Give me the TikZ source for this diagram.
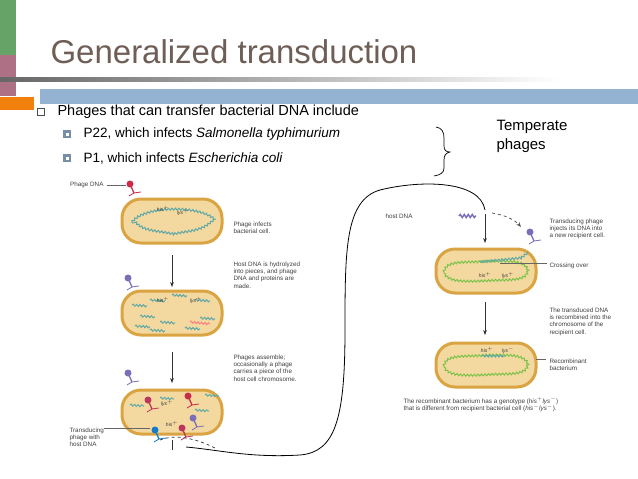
\documentclass[tikz,border=0pt]{standalone}
\usepackage{fontspec}
\setmainfont{Liberation Sans}
\usetikzlibrary{arrows.meta,decorations.pathmorphing}
\definecolor{titlec}{HTML}{6E5E56}
\definecolor{barblue}{HTML}{94B3D2}
\definecolor{cellout}{HTML}{D9A441}
\definecolor{cellin}{HTML}{F3D9A0}
\definecolor{dnac}{HTML}{5FA8A6}
\definecolor{grnc}{HTML}{7DC24A}
\definecolor{phagec}{HTML}{7A6FB8}
\tikzset{
 cell/.style={draw=cellout,line width=3pt,fill=cellin,rounded corners=19pt,minimum width=100pt,minimum height=44pt},
 note/.style={font=\fontsize{6.3}{7.3}\selectfont,align=left,anchor=north west,text=black!75},
 gene/.style={font=\itshape\fontsize{5}{6}\selectfont,text=black!80},
 dna/.style={dnac,line width=1pt,decorate,decoration={snake,amplitude=1pt,segment length=3.5pt}},
 gdna/.style={grnc,line width=1pt,decorate,decoration={snake,amplitude=1pt,segment length=3.5pt}},
 arr/.style={-{Stealth[length=5pt]},line width=0.7pt,black!80},
 sub/.style={font=\fontsize{13.5}{16}\selectfont,anchor=west},
 phg/.pic={\fill (0,0) circle (3.5pt); \draw[line width=1.3pt] (0,0) -- (4,9); \draw[line width=0.8pt] (4,9) -- ++(7,-1) (4,9) -- ++(-5,3);},
}
\begin{document}
\begin{tikzpicture}[x=1pt,y=-1pt]
\useasboundingbox (0,0) rectangle (638,479);
\fill[white] (0,0) rectangle (638,479);
% left strips
\fill[green!40!black!60!white] (0,0) rectangle (16,55);
\fill[purple!40!gray!80!white] (0,55) rectangle (16,96);
\fill[orange!80!brown] (0,97) rectangle (34,110);
\shade[left color=black!60,right color=white] (0,77) rectangle (560,81);
\fill[barblue] (40,89) rectangle (638,104);
\node[anchor=base west,text=titlec,font=\fontsize{33}{36}\selectfont] (title) at (47,63) {Generalized transduction};
% bullets
\draw[black!70,line width=0.6pt] (37,108) rectangle (44,115);
\node[sub,font=\fontsize{14.5}{16}\selectfont] (b1) at (54,112) {Phages that can transfer bacterial DNA include};
\fill[barblue!80!black] (63,130) rectangle (71,138);\fill[white](65.5,132.5) rectangle (68.5,135.5);
\fill[barblue!80!black] (63,154) rectangle (71,162);\fill[white](65.5,156.5) rectangle (68.5,159.5);
\node[sub] (s1) at (80,134) {P22, which infects \textit{Salmonella typhimurium}};
\node[sub] (s2) at (80,158) {P1, which infects \textit{Escherichia coli}};
\draw[black,line width=0.7pt] (436,127) .. controls (442,128) and (444,132) .. (444,138) -- (444,146) .. controls (444,150) and (446,152) .. (450,152) .. controls (446,153) and (444,155) .. (444,160) -- (444,168) .. controls (444,173) and (440,175) .. (434,176);
\node[anchor=north west,font=\fontsize{15}{19}\selectfont,align=left] (temp) at (493,117) {Temperate\\phages};
% left cells
\node[cell] (c1) at (172,221) {};
\node[cell] (c2) at (172,313) {};
\node[cell] (c3) at (172,412) {};
\fill[white] (152,436) rectangle (168,442);
\draw[dna] (132,222) .. controls (145,206) and (200,206) .. (214,220) .. controls (200,234) and (190,232) .. (172,236) .. controls (155,232) and (140,234) .. (132,222);
\foreach \a/\b in {132/305,150/300,172/295,195/300,140/316,160/322,185/328,200/318,135/326,150/330}{\draw[dna] (\a,\b) -- ++(15,1);}
\draw[red!50,line width=1pt,decorate,decoration={snake,amplitude=1pt,segment length=3.5pt}] (190,322) -- (210,324);
\foreach \a/\b in {130/405,160/398,195/410,205/395}{\draw[dna] (\a,\b) -- ++(14,1);}
\node[gene] at (163,209) {his$^{+}$};\node[gene] at (183,212) {lys$^{+}$};
\node[gene] at (163,300) {his$^{+}$};\node[gene] at (196,300) {lys$^{+}$};
\node[gene] at (167,403) {lys$^{+}$};\node[gene] at (172,424) {his$^{+}$};
% phages
\pic[color=red!60!phagec] at (130,184) {phg};
\pic[color=phagec] at (128,278) {phg};
\pic[color=phagec] at (128,373) {phg};
\pic[color=red!50!phagec] at (148,400) {phg};
\pic[color=red!60!phagec] at (188,396) {phg};
\pic[color=phagec] at (193,418) {phg};
\pic[color=red!50!phagec] at (182,428) {phg};
\pic[color=cyan!60!blue] at (155,430) {phg};
\draw[black!60,line width=0.4pt] (107,185) -- (126,185);
\node[note,anchor=east] at (107,185) {Phage DNA};
\draw[black!60,line width=0.4pt] (104,428) -- (150,428);
\node[note] at (66,424) {Transducing\\phage with\\host DNA};
\node[note] (n1) at (230,218) {Phage infects\\bacterial cell.};
\node[note] (n2) at (230,258) {Host DNA is hydrolyzed\\into pieces, and phage\\DNA and proteins are\\made.};
\node[note] (n3) at (230,351) {Phages assemble;\\occasionally a phage\\carries a piece of the\\host cell chromosome.};
\draw[arr] (172,255) -- (172,287);
\draw[arr] (172,352) -- (172,383);
% right cells
\node[cell] (c4) at (486,271) {};
\node[cell] (c5) at (486,365) {};
\draw[gdna] (444,272) .. controls (446,260) and (470,264) .. (486,262) .. controls (505,262) and (526,260) .. (528,272) .. controls (526,284) and (505,280) .. (486,282) .. controls (470,282) and (446,285) .. (444,272);
\draw[dna] (480,262) -- (520,258) -- (528,252);
\draw[gdna] (444,366) .. controls (446,354) and (470,358) .. (486,356) .. controls (505,356) and (526,354) .. (528,366) .. controls (526,378) and (505,374) .. (486,376) .. controls (470,376) and (446,379) .. (444,366);
\draw[dna] (482,356) -- (505,356);
\node[gene] at (485,275) {his$^{+}$};\node[gene] at (508,275) {lys$^{+}$};
\node[gene] at (487,350) {his$^{+}$};\node[gene] at (508,350) {lys$^{-}$};
\begin{scope}[shift={(530,232)},rotate=180]\pic[color=phagec] at (0,0) {phg};\end{scope}
\draw[phagec,line width=1.5pt,decorate,decoration={snake,amplitude=1.5pt,segment length=4pt}] (459,216) -- (476,216);
\draw[arr] (485,214) -- (485,243);
\draw[arr] (485,302) -- (485,335);
\draw[-{Stealth[length=5pt]},dashed,black!70,line width=0.7pt] (492,213) .. controls (505,215) and (515,220) .. (521,227);
\draw[black!60,line width=0.4pt] (500,263) -- (547,263);
\draw[black!60,line width=0.4pt] (536,359) -- (546,359);
\node[note] at (382,210) {host DNA};
\node[note] (n4) at (546,215) {Transducing phage\\injects its DNA into\\a new recipient cell.};
\node[note] (n5) at (546,259) {Crossing over};
\node[note] (n6) at (546,304) {The transduced DNA\\is recombined into the\\chromosome of the\\recipient cell.};
\node[note] (n7) at (546,355) {Recombinant\\bacterium};
\node[note] (n8) at (400,394) {The recombinant bacterium has a genotype (\textit{his}$^{+}$\textit{lys}$^{-}$)\\that is different from recipient bacterial cell (\textit{his}$^{-}$\textit{lys}$^{-}$).};
% curve
\draw[dashed,black!80,line width=0.7pt] (160,440) .. controls (175,434) and (195,438) .. (215,448);
\draw[black!80,line width=0.5pt] (172,440) -- (172,450);
\draw[black,line width=0.8pt] (186,447) .. controls (220,450) and (250,458) .. (300,455) .. controls (335,452) and (345,420) .. (345,330) .. controls (345,250) and (345,200) .. (380,190) .. controls (420,180) and (480,180) .. (485,210);
\end{tikzpicture}
\end{document}
